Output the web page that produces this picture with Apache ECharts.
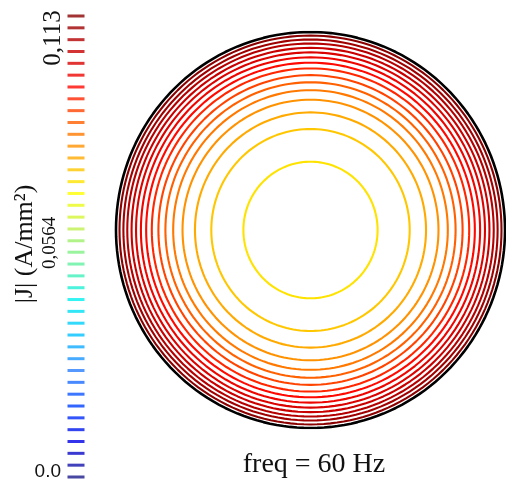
<!DOCTYPE html>
<html>
<head>
<meta charset="utf-8">
<script src="https://cdn.jsdelivr.net/npm/echarts@6/dist/echarts.min.js"></script>
<style>
  html, body { margin: 0; padding: 0; background: #fff; }
  #main { width: 506px; height: 479px; }
</style>
</head>
<body>
<div id="main"></div>
<script>
// contour levels shown on the colour bar (A/mm2)
const levels = [
  0, 0.0029, 0.0058, 0.0087, 0.0116, 0.0145, 0.0174, 0.0203, 0.0232, 0.0261,
  0.0290, 0.0319, 0.0348, 0.0377, 0.0406, 0.0435, 0.0464, 0.0493, 0.0522, 0.0551,
  0.0579, 0.0608, 0.0637, 0.0666, 0.0695, 0.0724, 0.0753, 0.0782, 0.0811, 0.0840,
  0.0869, 0.0898, 0.0927, 0.0956, 0.0985, 0.1014, 0.1043, 0.1072, 0.1101, 0.1130
]
// contour lines inside the conductor: level value and radius (fraction of conductor radius)
const ringLevels = [0.0724, 0.0753, 0.0782, 0.0811, 0.0840, 0.0869, 0.0898, 0.0927,
  0.0956, 0.0985, 0.1014, 0.1043, 0.1072, 0.1101, 0.1130]
const ringRadii = [0.345, 0.510, 0.594, 0.658, 0.706, 0.746, 0.782, 0.816,
  0.845, 0.872, 0.897, 0.920, 0.942, 0.962, 0.982]
const tickValues = [0, 0.0564, 0.113]
const tickLabels = ['0.0', '0,0564', '0,113']
const barTitle = '|J| (A/mm²)'
const caption = 'freq = 60 Hz'

const vMax = 0.113
const palette = ['#1a1a8c', '#0000e6', '#0040ff', '#2a80ff', '#00c0ff', '#00f0f0', '#60f0a0',
  '#c0f050', '#ffff00', '#ffaa00', '#ff6000', '#ff0800', '#c80000', '#8b0000']
const serif = "'Liberation Serif', 'Times New Roman', serif"

function colorFor(v) {
  return echarts.color.lerp(v / vMax, palette)
}

function circlePoints(r) {
  const pts = []
  for (let a = 0; a <= 360; a += 2) {
    const t = a * Math.PI / 180
    pts.push([r * Math.cos(t), r * Math.sin(t)])
  }
  return pts
}

const ringSeries = ringLevels.map((lv, k) => ({
  type: 'line',
  xAxisIndex: 0,
  yAxisIndex: 0,
  data: circlePoints(ringRadii[k]),
  showSymbol: false,
  silent: true,
  lineStyle: { color: colorFor(lv), width: 2.1 },
}))

const hiddenAxis = { show: false, min: -1, max: 1, type: 'value' }

const chart = echarts.init(document.getElementById('main'))
chart.setOption({
  animation: false,
  grid: [
    { left: 116, top: 32, width: 389, height: 396 },
    { left: 67, top: 16, width: 18, height: 461 },
  ],
  xAxis: [
    { ...hiddenAxis, gridIndex: 0 },
    { show: false, type: 'value', min: 0, max: 1, gridIndex: 1 },
  ],
  yAxis: [
    { ...hiddenAxis, gridIndex: 0 },
    { show: false, type: 'value', min: 0, max: vMax, gridIndex: 1 },
  ],
  series: [
    ...ringSeries,
    {
      type: 'line',
      data: circlePoints(1),
      showSymbol: false,
      silent: true,
      lineStyle: { color: '#000', width: 2.6 },
    },
    {
      type: 'scatter',
      xAxisIndex: 1,
      yAxisIndex: 1,
      data: levels.map(v => [0.5, v]),
      symbol: 'rect',
      symbolSize: [17, 3],
      silent: true,
      itemStyle: { color: p => colorFor(p.value[1]) },
    },
  ],
})

// tick label placement relative to the colour bar value
const tickStyles = [
  { dx: -15, dy: -5, rotation: 0, font: "19px 'Liberation Sans', Arial, sans-serif", align: 'right' },
  { dx: -26, dy: -4, rotation: Math.PI / 2, font: '19px ' + serif, align: 'center' },
  { dx: -23, dy: 22, rotation: Math.PI / 2, font: '25px ' + serif, align: 'center' },
]

const graphics = tickValues.map((v, k) => {
  const p = chart.convertToPixel({ gridIndex: 1 }, [0.5, v])
  const s = tickStyles[k]
  return {
    type: 'text',
    x: p[0] + s.dx,
    y: p[1] + s.dy,
    rotation: s.rotation,
    style: { text: tickLabels[k], font: s.font, fill: '#111', align: s.align, verticalAlign: 'middle' },
  }
})
graphics.push({
  type: 'text', x: 25, y: 244, rotation: Math.PI / 2,
  style: { text: barTitle, font: '26px ' + serif, fill: '#111', align: 'center', verticalAlign: 'middle' },
})
graphics.push({
  type: 'text', x: 314, y: 465,
  style: { text: caption, font: '28px ' + serif, fill: '#111', align: 'center', verticalAlign: 'middle' },
})
chart.setOption({ graphic: graphics })
</script>
</body>
</html>
